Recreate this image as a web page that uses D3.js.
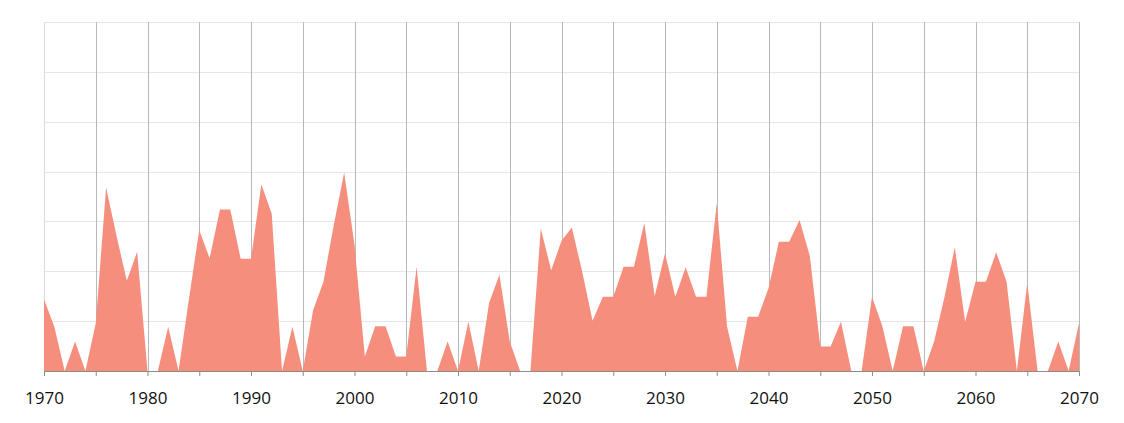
<!DOCTYPE html>
<html>
<head>
<meta charset="utf-8">
<script src="https://d3js.org/d3.v7.min.js"></script>
<style>
  body { margin: 0; background: #fff; }
  text { font-family: "Open Sans", sans-serif; }
</style>
</head>
<body>
<svg id="chart" width="1124" height="423"></svg>
<script>
// yearly values, 1970..2070
var years = d3.range(1970, 2071);
var values = [
  1.44, 0.89, 0, 0.59, 0, 0.96, 3.68, 2.72, 1.81, 2.39,   // 1970s
  0, 0, 0.89, 0, 1.44, 2.83, 2.26, 3.24, 3.24, 2.25,      // 1980s
  2.25, 3.74, 3.16, 0, 0.89, 0, 1.22, 1.79, 2.93, 3.98,   // 1990s
  2.53, 0.29, 0.90, 0.90, 0.29, 0.29, 2.09, 0, 0, 0.59,   // 2000s
  0, 0.99, 0, 1.36, 1.93, 0.59, 0, 0, 2.86, 2.02,         // 2010s
  2.61, 2.88, 1.99, 1.01, 1.49, 1.49, 2.09, 2.09, 2.97, 1.50, // 2020s
  2.36, 1.49, 2.08, 1.49, 1.49, 3.36, 0.89, 0, 1.09, 1.09,    // 2030s
  1.66, 2.59, 2.59, 3.03, 2.30, 0.49, 0.49, 0.99, 0, 0,       // 2040s
  1.49, 0.90, 0, 0.90, 0.90, 0, 0.59, 1.48, 2.48, 0.99,       // 2050s
  1.79, 1.79, 2.38, 1.79, 0, 1.77, 0, 0, 0.59, 0,             // 2060s
  0.96                                                        // 2070
];
var yTicks = d3.range(0, 8);
var gridYears = d3.range(1975, 2071, 5);

var svg = d3.select("#chart");
var margin = {left: 44, right: 45, top: 22, bottom: 52};
var width = 1124 - margin.left - margin.right,
    height = 423 - margin.top - margin.bottom;

var x = d3.scaleLinear().domain([1970, 2070]).range([0, width]);
var y = d3.scaleLinear().domain([0, 7]).range([height, 0]);

var g = svg.append("g").attr("transform", "translate(" + margin.left + "," + margin.top + ")");

// horizontal grid
g.selectAll(".hgrid").data(yTicks).enter().append("line")
  .attr("x1", 0).attr("x2", width)
  .attr("y1", function(d) { return Math.round(y(d)) + 0.5; })
  .attr("y2", function(d) { return Math.round(y(d)) + 0.5; })
  .attr("stroke", "#e6e6e6");

// left edge
g.append("line")
  .attr("x1", 0.5).attr("x2", 0.5).attr("y1", 0).attr("y2", height)
  .attr("stroke", "#dcdcdc");

// vertical grid
g.selectAll(".vgrid").data(gridYears).enter().append("line")
  .attr("x1", function(d) { return Math.round(x(d)) + 0.5; })
  .attr("x2", function(d) { return Math.round(x(d)) + 0.5; })
  .attr("y1", 0).attr("y2", height)
  .attr("stroke", "#b8b8b8");

// area
var data = years.map(function(yr, i) { return {year: yr, v: values[i]}; });
var area = d3.area()
  .x(function(d) { return x(d.year); })
  .y0(y(0))
  .y1(function(d) { return y(d.v); });

g.append("path").datum(data)
  .attr("d", area)
  .attr("fill", "#f68e7e");

// x axis
var xAxis = d3.axisBottom(x)
  .tickValues(d3.range(1970, 2071, 5))
  .tickSize(5)
  .tickFormat(function(d) { return d % 10 === 0 ? d : ""; });

var ax = g.append("g")
  .attr("transform", "translate(0," + height + ")")
  .call(xAxis);
ax.select(".domain").attr("stroke", "#8c8c8c");
ax.selectAll(".tick line").attr("stroke", "#8c8c8c");
ax.selectAll(".tick text")
  .attr("y", 21)
  .attr("fill", "#111")
  .style("font-size", "17px")
  .style("font-family", "'Open Sans', sans-serif");
</script>
</body>
</html>
